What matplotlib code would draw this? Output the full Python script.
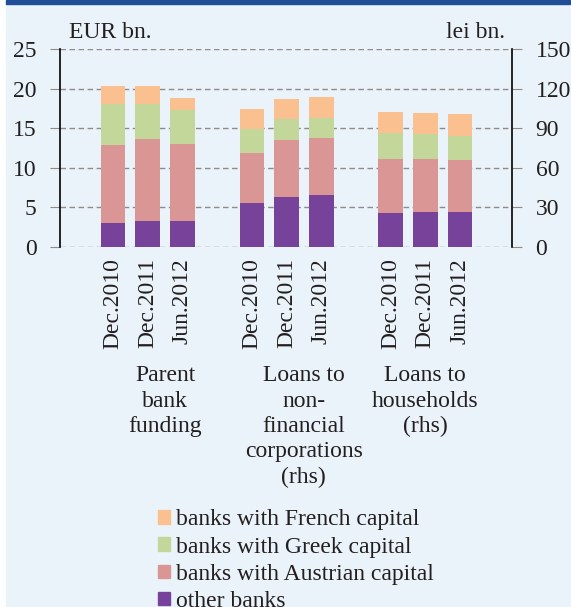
import numpy as np
import matplotlib.pyplot as plt
from matplotlib.patches import Rectangle

plt.rcParams['font.family'] = ['Liberation Serif', 'DejaVu Serif']

periods = ["Dec.2010", "Dec.2011", "Jun.2012"]
groups = ["Parent\nbank\nfunding",
          "Loans to\nnon-\nfinancial\ncorporations\n(rhs)",
          "Loans to\nhouseholds\n(rhs)"]
series = ["other banks", "banks with Austrian capital",
          "banks with Greek capital", "banks with French capital"]
colors = ["#76429a", "#d99694", "#c4d79b", "#fac090"]

# parent bank funding, EUR bn. (left axis)
funding_other = [3.0, 3.3, 3.2]
funding_austria = [9.85, 10.3, 9.85]
funding_greece = [5.15, 4.5, 4.25]
funding_france = [2.3, 2.25, 1.55]

# loans to non-financial corporations, lei bn. (right axis)
nfc_other = [32.9, 37.7, 39.5]
nfc_austria = [38.4, 43.0, 42.7]
nfc_greece = [17.8, 16.0, 15.7]
nfc_france = [15.6, 15.4, 15.7]

# loans to households, lei bn. (right axis)
hh_other = [25.8, 26.6, 26.6]
hh_austria = [40.5, 40.2, 39.2]
hh_greece = [19.7, 18.5, 18.5]
hh_france = [16.2, 15.9, 16.2]

fs = 17
ink = "#231f20"
bg = "#ebf3fa"
fig = plt.figure(figsize=(5.71, 6.07), dpi=100)
fig.patch.set_facecolor("white")
fig.patches.append(Rectangle((6 / 571, 0), 564 / 571, 1 - 5 / 607,
                             transform=fig.transFigure, color=bg, zorder=-10))
fig.patches.append(Rectangle((6 / 571, 1 - 4 / 607), 564 / 571, 4 / 607,
                             transform=fig.transFigure, color="#1f4e96", zorder=-10))

ax = fig.add_axes([60 / 571, 1 - 246.7 / 607, 452 / 571, 197.7 / 607])
ax.set_facecolor("none")
ax2 = ax.twinx()

x_fund = np.array([0, 1, 2])
x_nfc = np.array([4, 5, 6])
x_hh = np.array([8, 9, 10])
w = 0.71

def stack(axis, xs, parts):
    bottom = np.zeros(len(xs))
    for vals, c in zip(parts, colors):
        axis.bar(xs, vals, w, bottom=bottom, color=c, zorder=3)
        bottom += np.array(vals)

stack(ax, x_fund, [funding_other, funding_austria, funding_greece, funding_france])
stack(ax2, x_nfc, [nfc_other, nfc_austria, nfc_greece, nfc_france])
stack(ax2, x_hh, [hh_other, hh_austria, hh_greece, hh_france])

ax.set_xlim(-1.53, 11.5)
ax.set_ylim(0, 25)
ax2.set_ylim(0, 150)
ax.set_yticks(range(0, 26, 5))
ax2.set_yticks(range(0, 151, 30))
ax.grid(axis="y", color="#8c8c8c", linestyle=(0, (4, 2.5)), linewidth=1, zorder=1)
ax.set_axisbelow(True)

for a in (ax, ax2):
    for s in ("top", "bottom"):
        a.spines[s].set_visible(False)
    a.tick_params(axis="y", direction="out", length=7, color="#8c8c8c",
                  labelsize=fs, pad=10, labelcolor=ink)
ax.spines["left"].set_linewidth(1.2)
ax2.spines["right"].set_linewidth(1.2)
ax.spines["right"].set_visible(False)
ax2.spines["left"].set_visible(False)

ax.set_xticks(np.concatenate([x_fund, x_nfc, x_hh]))
ax.set_xticklabels(periods * 3, rotation=90, fontsize=fs, color=ink)
ax.tick_params(axis="x", length=0, pad=8)

ax.text(0.02, 1.03, "EUR bn.", transform=ax.transAxes, fontsize=fs,
        ha="left", va="bottom", color=ink)
ax2.text(0.985, 1.03, "lei bn.", transform=ax2.transAxes, fontsize=fs,
         ha="right", va="bottom", color=ink)

trans = ax.get_xaxis_transform()
for xc, label in zip([1.5, 5.5, 9.0], groups):
    ax.text(xc, -0.60, label, transform=trans, ha="center", va="top",
            fontsize=fs, linespacing=1.27, color=ink)

handles = [Rectangle((0, 0), 1, 1, color=c) for c in colors[::-1]]
leg = fig.legend(handles, series[::-1], loc="upper left",
                 bbox_to_anchor=(149 / 571, 1 - 500 / 607), frameon=False,
                 fontsize=fs, handlelength=0.5, handleheight=0.5,
                 handletextpad=0.25, labelspacing=0.26, borderaxespad=0)
for t in leg.get_texts():
    t.set_color(ink)

fig.savefig("out.png", dpi=100, facecolor=fig.get_facecolor())
